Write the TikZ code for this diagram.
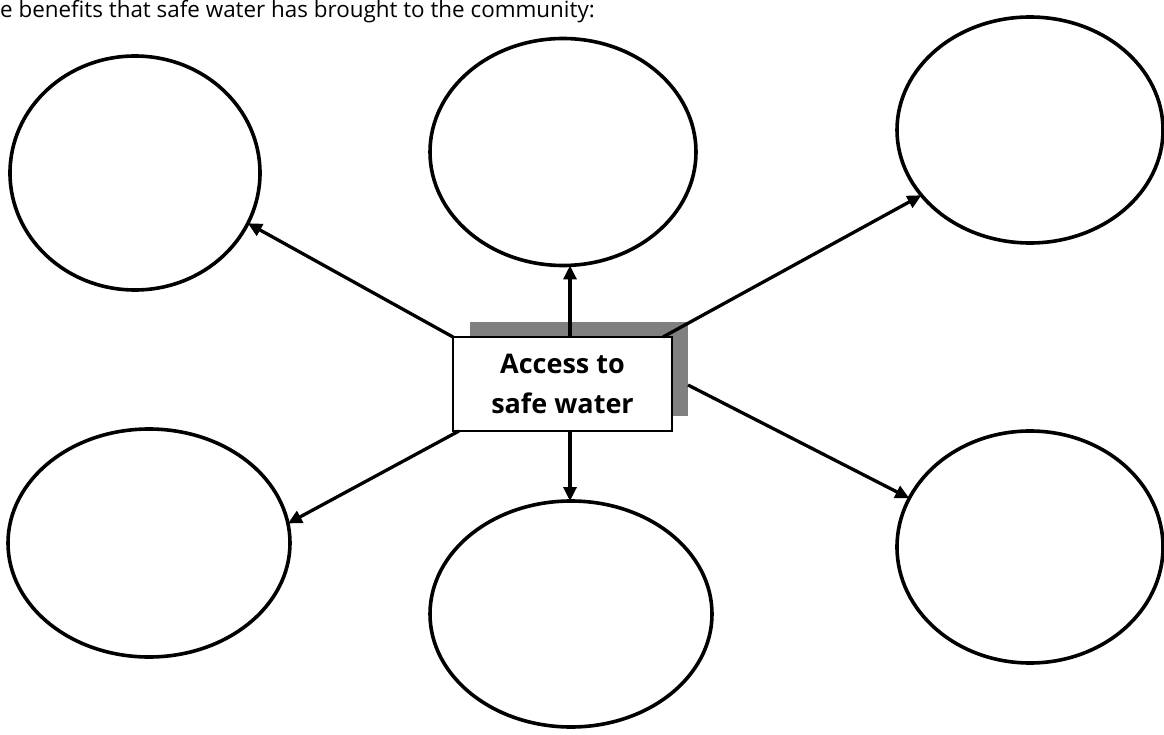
\documentclass[tikz,border=0pt]{standalone}
\usepackage{fontspec}
\setmainfont{Open Sans}
\usetikzlibrary{shapes.geometric,arrows.meta}
\definecolor{shadowgray}{HTML}{808080}
\tikzset{
  bubble/.style={draw=black, line width=3.6pt, ellipse, inner sep=0pt, outer sep=0pt},
  link/.style={line width=3.3pt, -{Triangle[length=14pt,width=13pt]}},
  centerbox/.style={draw=black, line width=2.2pt, fill=white, rectangle, inner sep=0pt, outer sep=0pt,
     minimum width=219pt, minimum height=94pt, align=center,
     font=\bfseries\fontsize{27}{40}\selectfont},
  shadowbox/.style={fill=shadowgray, rectangle, inner sep=0pt, outer sep=0pt,
     minimum width=218pt, minimum height=94pt},
  heading/.style={inner sep=0pt, anchor=base west, font=\fontsize{22.4}{26}\selectfont}
}
\begin{document}
\begin{tikzpicture}[x=1pt,y=-1pt]
\useasboundingbox (0,0) rectangle (1164,735);
\node[heading] (title) at (0,18) {e benefits that safe water has brought to the community:};
% ellipses
\node[bubble, minimum width=250pt, minimum height=234pt] (tl) at (135,173) {};
\node[bubble, minimum width=266pt, minimum height=227pt] (tc) at (563,152) {};
\node[bubble, minimum width=266pt, minimum height=226pt] (tr) at (1030,130) {};
\node[bubble, minimum width=282pt, minimum height=228pt] (bl) at (149,543) {};
\node[bubble, minimum width=282pt, minimum height=226pt] (bc) at (571,614) {};
\node[bubble, minimum width=266pt, minimum height=232pt] (br) at (1030,547) {};
% central box
\node[shadowbox] (shadow) at (579,369) {};
\node[centerbox] (box) at (562.5,384) {Access to\\safe water};
% connectors
\draw[link] (box.north west) -- (tl.-24);
\draw[link] ([xshift=7.5pt]box.north) -- ([xshift=7.5pt]box.north |- tc.south);
\draw[link] ([xshift=-9pt]box.north east) -- (tr.211);
\draw[link] ([xshift=6pt]box.south west) -- (bl.8.5);
\draw[link] ([xshift=7.5pt]box.south) -- ([xshift=7.5pt]box.south |- bc.north);
\draw[link] ([yshift=-16pt]shadow.east) -- (br.158);
\end{tikzpicture}
\end{document}
